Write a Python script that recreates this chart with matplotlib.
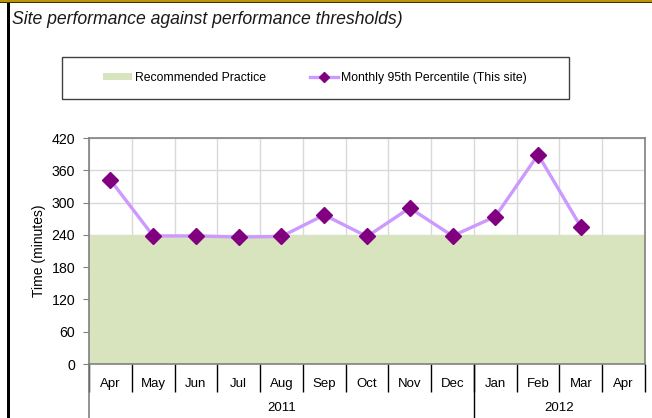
import numpy as np
import matplotlib.pyplot as plt
from matplotlib.lines import Line2D
from matplotlib.patches import Patch, Rectangle
import matplotlib.transforms as mtransforms

plt.rcParams['font.family'] = ['Liberation Sans', 'DejaVu Sans']

# --- data -------------------------------------------------------------
months = ['Apr', 'May', 'Jun', 'Jul', 'Aug', 'Sep', 'Oct', 'Nov', 'Dec',
          'Jan', 'Feb', 'Mar', 'Apr']
years = ['2011', '2012']
year_span = [(0, 9), (9, 13)]          # category index ranges per year
p95 = [342, 238, 238, 236, 237, 277, 237, 290, 238, 274, 389, 255]
recommended = [240] * 13
y_ticks = [0, 60, 120, 180, 240, 300, 360, 420]

GREEN = '#d7e4bd'
LINE = '#cc99ff'
MARK = '#800080'
GRID = '#d9d9d9'

fig = plt.figure(figsize=(6.52, 4.18), dpi=100)
W, H = 652, 418

# frame bits of the page around the chart
fig.add_artist(Rectangle((0, 1 - 3 / H), 1, 3 / H, transform=fig.transFigure,
                         facecolor='#3a3000', edgecolor='none'))
fig.add_artist(Rectangle((0, 1 - 1.5 / H), 1, 1.5 / H, transform=fig.transFigure,
                         facecolor='#b8960c', edgecolor='none'))
fig.add_artist(Rectangle((6.5 / W, 0), 3 / W, 1 - 3 / H, transform=fig.transFigure,
                         facecolor='black', edgecolor='none'))

fig.text(12 / W, 1 - 19 / H, 'Site performance against performance thresholds)',
         fontsize=12.7, style='italic', va='center', ha='left', color='#1a1a1a')

# --- axes -------------------------------------------------------------
ax = fig.add_axes([89 / W, (H - 364) / H, (645 - 89) / W, (364 - 138) / H])
x = np.arange(len(months))

ax.fill_between(np.arange(-0.5, len(months)), 0,
                np.r_[recommended, recommended[-1]], step='post',
                color=GREEN, lw=0, zorder=1)
ax.plot(x[:len(p95)], p95, color=LINE, lw=2.4, marker='D', ms=8.5,
        mfc=MARK, mec=MARK, zorder=3, clip_on=False)

ax.set_xlim(-0.5, len(months) - 0.5)
ax.set_ylim(0, 420)
ax.set_yticks(y_ticks)
ax.tick_params(axis='y', labelsize=10.2, length=4, color='#808080', pad=6)
ax.set_ylabel('Time (minutes)', fontsize=10, labelpad=4)

bounds = np.arange(-0.5, len(months) + 0.5)
ax.set_xticks(bounds)
ax.set_xticklabels([])
ax.tick_params(axis='x', which='major', length=20, width=1, color='black')
ax.set_xticks(x, minor=True)
ax.set_xticklabels(months, minor=True, fontsize=9.5)
ax.tick_params(axis='x', which='minor', length=0, pad=10)

ax.grid(True, which='major', color=GRID, lw=1, zorder=0)
ax.set_axisbelow(True)
for s in ax.spines.values():
    s.set_color('#808080')
    s.set_linewidth(1.2)

trans = mtransforms.blended_transform_factory(ax.transData, ax.transAxes)
for (a, b), yr in zip(year_span, years):
    ax.text((a + b - 1) / 2, -0.195, yr, transform=trans, ha='center',
            va='center', fontsize=9.5)
ax.plot([-0.5, -0.5], [0, -0.24], transform=trans, color='#808080',
        lw=1.2, clip_on=False)
ax.plot([8.5, 8.5], [0, -0.24], transform=trans, color='black',
        lw=1, clip_on=False)

# --- legend -----------------------------------------------------------
fig.add_artist(Rectangle((62 / W, (H - 99) / H), (569 - 62) / W, 42 / H,
                         transform=fig.transFigure, facecolor='white',
                         edgecolor='#404040', lw=1))
handles = [Patch(facecolor=GREEN, edgecolor='none', label='Recommended Practice'),
           Line2D([], [], color=LINE, lw=2.4, marker='D', ms=5, mfc=MARK,
                  mec=MARK, label='Monthly 95th Percentile (This site)')]
fig.legend(handles=handles, loc='center', ncol=2, frameon=False,
           bbox_to_anchor=(315 / W, (H - 78) / H), fontsize=8.8,
           handlelength=2.3, handleheight=0.55, handletextpad=0.25,
           columnspacing=3.6)

fig.savefig('out.png', dpi=100)
